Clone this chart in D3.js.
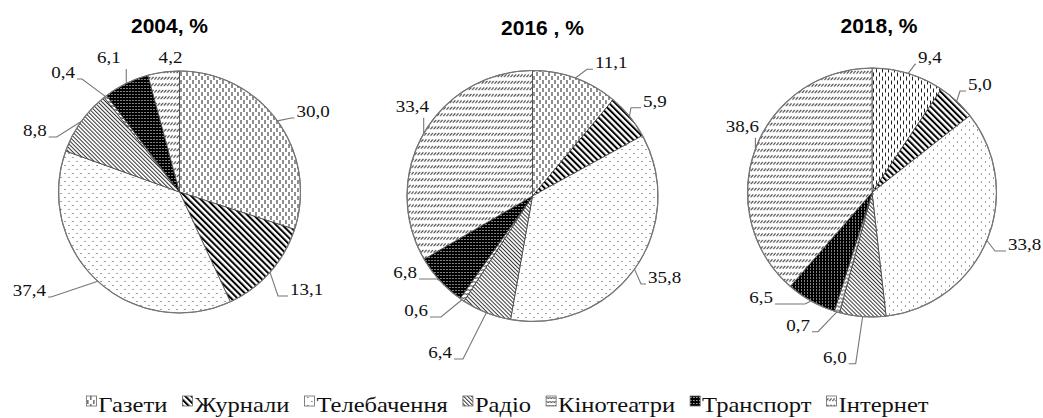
<!DOCTYPE html>
<html>
<head>
<meta charset="utf-8">
<script src="https://cdn.jsdelivr.net/npm/d3@7"></script>
<style>
  body { margin: 0; background: #fff; }
  svg { display: block; }
  .serif { font-family: "Liberation Serif", "DejaVu Serif", "Times New Roman", serif; }
  .sans { font-family: "Liberation Sans", Arial, sans-serif; font-weight: bold; }
</style>
</head>
<body>
<div id="wrapper"></div>
<script>
// --- data ---
const categories = ["Газети", "Журнали", "Телебачення", "Радіо", "Кінотеатри", "Транспорт", "Інтернет"];
const titles = ["2004, %", "2016 , %", "2018, %"];
const share2004 = [30.0, 13.1, 37.4, 8.8, 0.4, 6.1, 4.2];
const share2016 = [11.1, 5.9, 35.8, 6.4, 0.6, 6.8, 33.4];
const share2018 = [9.4, 5.0, 33.8, 6.0, 0.7, 6.5, 38.6];
const series = [share2004, share2016, share2018];

// --- layout (label spots relative to each pie centre) ---
const pies = [
  { cx: 179.5, cy: 192, r: 121, title: [-10, -159],
    labels: [[117, -75, "start", 3], [110.5, 103, "start", 10], [-133.5, 104, "end", 3],
             [-132.8, -56, "end", 8], [-104.5, -114, "end", 5], [-58.8, -129, "end", "top"],
             [-9, -129, "middle", "none"]] },
  { cx: 532.5, cy: 196, r: 125.5, title: [10, -161],
    labels: [[62.5, -127.7, "start", 6], [110.5, -89.3, "start", 10], [115.5, 87, "start", 5],
             [-80.5, 162, "end", 9], [-104.5, 120, "end", 11], [-115.5, 82, "end", 18],
             [-103.5, -84.3, "end", "top"]] },
  { cx: 872, cy: 192.5, r: 124.5, title: [7, -160],
    labels: [[46, -129.2, "start", 1], [96, -102.5, "start", 6], [136, 57.5, "start", 11],
             [-25.3, 170.2, "end", 7], [-62, 138.2, "end", 6], [-99, 110.5, "end", 30],
             [-113, -60.8, "end", "top"]] }
];

const W = 1043, H = 418;
const svg = d3.select("#wrapper").append("svg").attr("width", W).attr("height", H);
const defs = svg.append("defs");

function pattern(id, w, h, bg, rot) {
  const p = defs.append("pattern").attr("id", id)
    .attr("patternUnits", "userSpaceOnUse").attr("width", w).attr("height", h);
  if (rot) p.attr("patternTransform", "rotate(" + rot + ")");
  p.append("rect").attr("width", w).attr("height", h).attr("fill", bg);
  return p;
}
// Газети - vertical dashes
let p = pattern("pat0", 6, 8, "#fff");
p.append("rect").attr("x", 1).attr("y", 0).attr("width", 1).attr("height", 4).attr("fill", "#222");
p.append("rect").attr("x", 4).attr("y", 4).attr("width", 1).attr("height", 4).attr("fill", "#222");
// Журнали - wide downward diagonal
p = pattern("pat1", 4.4, 4.4, "#fff", -45);
p.append("rect").attr("width", 2).attr("height", 4.4).attr("fill", "#000");
// Телебачення - sparse dots
p = pattern("pat2", 8, 8, "#fff");
p.append("rect").attr("x", 1).attr("y", 1).attr("width", 1).attr("height", 1).attr("fill", "#444");
p.append("rect").attr("x", 5).attr("y", 5).attr("width", 1).attr("height", 1).attr("fill", "#444");
// Радіо - narrow downward diagonal
p = pattern("pat3", 2.8, 2.8, "#fff", -45);
p.append("rect").attr("width", 1).attr("height", 2.8).attr("fill", "#333");
// Кінотеатри - zigzag
p = pattern("pat4", 6, 4, "#fff");
p.append("path").attr("d", "M0,3L1.5,1L3,3L4.5,1L6,3").attr("fill", "none").attr("stroke", "#222").attr("stroke-width", 0.8);
// Транспорт - black with white dots
p = pattern("pat5", 3, 3, "#000");
p.append("rect").attr("x", 1).attr("y", 1).attr("width", 1).attr("height", 1).attr("fill", "#fff");
// Інтернет - dashed upward diagonals
p = pattern("pat6", 3.2, 6.5, "#fff");
p.append("path").attr("d", "M0.4,4.6L2.8,2").attr("stroke", "#111").attr("stroke-width", 0.9);

const fmt = v => d3.format(".1f")(v).replace(".", ",");
const pie = d3.pie().sort(null).value(d => d);

pies.forEach(function(cfg, i) {
  const g = svg.append("g").attr("transform", "translate(" + cfg.cx + "," + cfg.cy + ")");
  const arc = d3.arc().innerRadius(0).outerRadius(cfg.r);
  const edge = d3.arc().innerRadius(cfg.r).outerRadius(cfg.r);
  const arcs = pie(series[i]);

  g.selectAll("path.slice")
    .data(arcs)
    .enter().append("path")
    .attr("class", "slice")
    .attr("d", arc)
    .attr("fill", (d, j) => "url(#pat" + j + ")")
    .attr("stroke", "#404040")
    .attr("stroke-width", 0.8);
  g.append("circle").attr("r", cfg.r).attr("fill", "none").attr("stroke", "#777").attr("stroke-width", 1.2);

  // leader lines
  g.selectAll("path.leader")
    .data(arcs.filter((d, j) => cfg.labels[j][3] !== "none"))
    .enter().append("path")
    .attr("class", "leader")
    .attr("fill", "none").attr("stroke", "#777").attr("stroke-width", 1.1)
    .attr("d", function(d) {
      const L = cfg.labels[d.index];
      const e = edge.centroid(d);
      if (L[3] === "top") return d3.line()([e, [e[0], L[1] + 6]]);
      const px = L[2] === "start" ? L[0] - 2 : L[0] + 2;
      const qx = L[2] === "start" ? px - L[3] : px + L[3];
      return d3.line()([e, [qx, L[1] + 1], [px, L[1] + 1]]);
    });

  g.selectAll("text.lab")
    .data(arcs)
    .enter().append("text")
    .attr("class", "lab serif")
    .attr("transform", d => "translate(" + cfg.labels[d.index][0] + "," + cfg.labels[d.index][1] + ") scale(1.12,1)")
    .attr("text-anchor", d => cfg.labels[d.index][2])
    .attr("font-size", 17)
    .attr("fill", "#111")
    .text(d => fmt(d.data));

  g.append("text")
    .attr("class", "sans")
    .attr("x", cfg.title[0]).attr("y", cfg.title[1])
    .attr("text-anchor", "middle")
    .attr("font-size", 21)
    .text(titles[i]);
});

// legend
const legend = svg.append("g");
const items = legend.selectAll("g.item").data(categories).enter().append("g").attr("class", "item");
items.append("rect")
  .attr("y", 396).attr("width", 10).attr("height", 10)
  .attr("fill", (d, j) => "url(#pat" + j + ")")
  .attr("stroke", "#666").attr("stroke-width", 0.8);
items.append("text")
  .attr("class", "serif")
  .attr("font-size", 21)
  .attr("fill", "#111")
  .text(d => d);
const sx = 1.17;
let xpos = 0;
items.each(function() {
  const it = d3.select(this);
  const tw = it.select("text").node().getComputedTextLength() * sx;
  it.select("rect").attr("x", xpos);
  it.select("text").attr("transform", "translate(" + (xpos + 12) + ",412) scale(" + sx + ",1)");
  xpos += 12 + tw + 15;
});
const total = xpos - 15;
legend.attr("transform", "translate(" + (507.5 - total / 2) + ",0)");
</script>
</body>
</html>
